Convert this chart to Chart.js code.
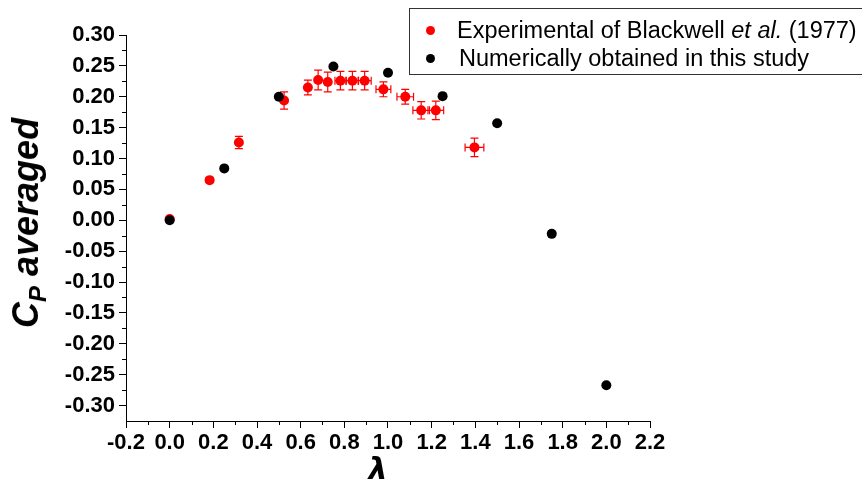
<!DOCTYPE html>
<html>
<head>
<meta charset="utf-8">
<script src="https://cdn.jsdelivr.net/npm/chart.js@4"></script>
<style>
  html, body { margin: 0; padding: 0; background: #fff; overflow: hidden; }
  #wrap { position: relative; width: 862px; height: 488px; }
  #legend {
    position: absolute; left: 409px; top: 8px; width: 470px; height: 67px;
    border: 1px solid #333; box-sizing: border-box;
    font-family: "Liberation Sans", Arial, sans-serif; font-size: 23.5px; color: #000;
  }
  #legend .row { position: absolute; white-space: nowrap; line-height: 1; }
  #legend .dot { position: absolute; width: 9px; height: 9px; border-radius: 50%; }
  #ytitle {
    position: absolute; left: 29px; top: 223px; transform: translate(-50%, -50%) rotate(-90deg);
    font-family: "Liberation Sans", Arial, sans-serif; font-weight: bold; font-style: italic;
    font-size: 36px; white-space: nowrap; line-height: 1;
  }
  #ytitle sub { font-size: 24px; vertical-align: -8px; }
  #xtitle {
    position: absolute; left: 378px; top: 469px; transform: translate(-50%, -50%);
    font-family: "DejaVu Sans", sans-serif; font-weight: bold; font-style: italic; font-size: 30px;
    line-height: 1;
  }
</style>
</head>
<body>
<div id="wrap">
  <canvas id="c" width="862" height="488"></canvas>
  <div id="legend">
    <div class="dot" style="left:16px; top:17px; background:#f00"></div>
    <div class="row" style="left:47px; top:10px">Experimental of Blackwell <i>et al.</i> (1977)</div>
    <div class="dot" style="left:16px; top:45px; background:#000"></div>
    <div class="row" style="left:49px; top:38px">Numerically obtained in this study</div>
  </div>
  <div id="ytitle">C<sub>P</sub> averaged</div>
  <div id="xtitle">λ</div>
</div>
<script>
// Blackwell et al. (1977) measurements, with error bars
const lambdaExp = [0.0, 0.183, 0.317, 0.524, 0.633, 0.680, 0.724, 0.782, 0.837, 0.893, 0.979, 1.079, 1.152, 1.219, 1.396];
const cpExp     = [0.002, 0.065, 0.126, 0.194, 0.215, 0.227, 0.224, 0.226, 0.226, 0.226, 0.212, 0.200, 0.178, 0.178, 0.118];
const cpErr     = [0.003, 0.004, 0.010, 0.014, 0.012, 0.016, 0.016, 0.015, 0.015, 0.015, 0.012, 0.012, 0.014, 0.015, 0.015];
const lambdaErr = [0, 0, 0, 0, 0, 0, 0, 0.025, 0.028, 0.030, 0.034, 0.038, 0.038, 0.036, 0.043];

// this study
const lambdaNum = [0.0, 0.25, 0.5, 0.75, 1.0, 1.25, 1.5, 1.75, 2.0];
const cpNum     = [0.0, 0.084, 0.200, 0.249, 0.239, 0.201, 0.157, -0.022, -0.267];

const xTicks = [-0.2, 0.0, 0.2, 0.4, 0.6, 0.8, 1.0, 1.2, 1.4, 1.6, 1.8, 2.0, 2.2];
const yTicks = [-0.30, -0.25, -0.20, -0.15, -0.10, -0.05, 0.00, 0.05, 0.10, 0.15, 0.20, 0.25, 0.30];

const tickFont = { family: '"Liberation Sans", Arial, sans-serif', size: 22, weight: 'bold' };

// error bars go under the markers
const errorBars = {
    id: 'errorBars',
    beforeDatasetsDraw(chart) {
        const { ctx, scales: { x, y } } = chart;
        const cap = 4;
        ctx.save();
        ctx.strokeStyle = '#f00';
        ctx.lineWidth = 1.2;
        lambdaExp.forEach((lx, i) => {
            const px = x.getPixelForValue(lx);
            const py = y.getPixelForValue(cpExp[i]);
            ctx.beginPath();
            if (cpErr[i] > 0) {
                const y1 = y.getPixelForValue(cpExp[i] + cpErr[i]);
                const y2 = y.getPixelForValue(cpExp[i] - cpErr[i]);
                ctx.moveTo(px, y1); ctx.lineTo(px, y2);
                ctx.moveTo(px - cap, y1); ctx.lineTo(px + cap, y1);
                ctx.moveTo(px - cap, y2); ctx.lineTo(px + cap, y2);
            }
            if (lambdaErr[i] > 0) {
                const x1 = x.getPixelForValue(lx - lambdaErr[i]);
                const x2 = x.getPixelForValue(lx + lambdaErr[i]);
                ctx.moveTo(x1, py); ctx.lineTo(x2, py);
                ctx.moveTo(x1, py - cap); ctx.lineTo(x1, py + cap);
                ctx.moveTo(x2, py - cap); ctx.lineTo(x2, py + cap);
            }
            ctx.stroke();
        });
        ctx.restore();
    },
};

// short minor ticks halfway between the labelled ones
const minorTicks = {
    id: 'minorTicks',
    afterDraw(chart) {
        const { ctx, scales: { x, y } } = chart;
        ctx.save();
        ctx.strokeStyle = '#000';
        ctx.lineWidth = 1;
        ctx.beginPath();
        for (let i = 0; i < xTicks.length - 1; i++) {
            const px = Math.round(x.getPixelForValue((xTicks[i] + xTicks[i + 1]) / 2)) + 0.5;
            ctx.moveTo(px, y.bottom); ctx.lineTo(px, y.bottom + 4);
        }
        for (let i = 0; i < yTicks.length - 1; i++) {
            const py = Math.round(y.getPixelForValue((yTicks[i] + yTicks[i + 1]) / 2)) + 0.5;
            ctx.moveTo(x.left, py); ctx.lineTo(x.left - 4, py);
        }
        ctx.stroke();
        ctx.restore();
    },
};

// dataset 0 is painted last, so the black markers sit on top of the red ones
new Chart(document.getElementById('c'), {
    type: 'scatter',
    data: {
        datasets: [
            {
                label: 'Numerically obtained in this study',
                data: lambdaNum.map((v, i) => ({ x: v, y: cpNum[i] })),
                backgroundColor: '#000',
                borderColor: '#000',
                pointRadius: 5,
                borderWidth: 0,
            },
            {
                label: 'Experimental of Blackwell et al. (1977)',
                data: lambdaExp.map((v, i) => ({ x: v, y: cpExp[i] })),
                backgroundColor: '#f00',
                borderColor: '#f00',
                pointRadius: 5,
                borderWidth: 0,
            },
        ],
    },
    options: {
        responsive: false,
        animation: false,
        layout: { padding: { top: 35, right: 212, left: 0, bottom: 0 } },
        plugins: { legend: { display: false }, tooltip: { enabled: false } },
        scales: {
            x: {
                type: 'linear',
                min: -0.2,
                max: 2.2,
                afterBuildTicks: s => { s.ticks = xTicks.map(v => ({ value: v })); },
                afterFit: s => { s.height = 67; },
                ticks: { font: tickFont, color: '#000', padding: 2, maxRotation: 0, callback: v => v.toFixed(1) },
                grid: { drawOnChartArea: false, tickLength: 7, color: '#000', tickWidth: 1 },
                border: { color: '#000', width: 1 },
            },
            y: {
                type: 'linear',
                min: -0.325,
                max: 0.30,
                afterBuildTicks: s => { s.ticks = yTicks.map(v => ({ value: v })); },
                afterFit: s => { s.width = 126; },
                ticks: { font: tickFont, color: '#000', padding: 4, callback: v => v.toFixed(2) },
                grid: { drawOnChartArea: false, tickLength: 7, color: '#000', tickWidth: 1 },
                border: { color: '#000', width: 1 },
            },
        },
    },
    plugins: [errorBars, minorTicks],
});
</script>
</body>
</html>
